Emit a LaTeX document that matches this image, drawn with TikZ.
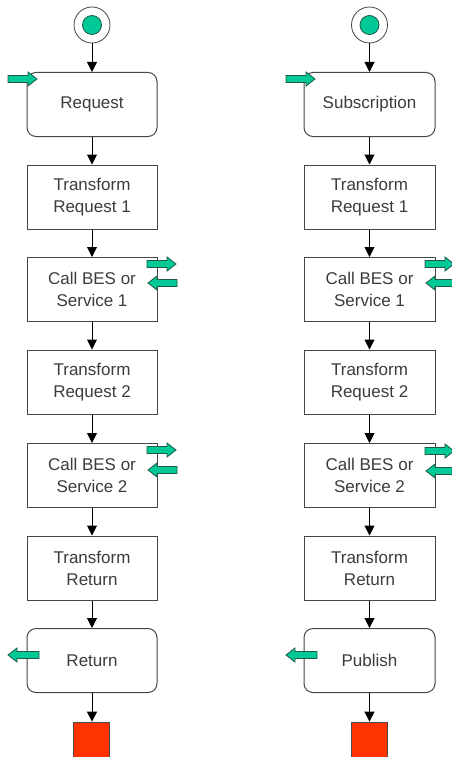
\documentclass[tikz,border=0pt]{standalone}
\usepackage{fontspec}
\setmainfont{Liberation Sans}
\usetikzlibrary{arrows.meta,positioning}
\definecolor{gfill}{RGB}{0,200,150}
\definecolor{gline}{RGB}{30,90,70}
\definecolor{rfill}{RGB}{255,51,0}
\definecolor{boxline}{RGB}{70,70,70}
\definecolor{txt}{RGB}{60,60,60}
\tikzset{
  stepbox/.style={draw=boxline, line width=1pt, fill=white, minimum width=130pt, minimum height=64pt,
    inner sep=0pt, align=center, font=\fontsize{17}{22}\selectfont, text=txt},
  roundbox/.style={stepbox, rounded corners=9pt},
  startouter/.style={circle, draw=boxline, line width=0.8pt, fill=white, minimum size=36pt, inner sep=0pt},
  startinner/.style={circle, draw=gline, line width=0.8pt, fill=gfill, minimum size=19pt, inner sep=0pt},
  endbox/.style={draw=black!70, line width=0.8pt, fill=rfill, minimum width=36pt, minimum height=36pt, inner sep=0pt},
  flow/.style={line width=1pt, -{Triangle[width=10pt,length=10pt]}},
  garrow/.style={fill=gfill, draw=gline, line width=0.8pt, line join=miter},
}
\newcommand{\rarr}[3]{\filldraw[garrow] (#1,#3-3.5) -- (#2-9,#3-3.5) -- (#2-9,#3-7) -- (#2,#3) -- (#2-9,#3+7) -- (#2-9,#3+3.5) -- (#1,#3+3.5) -- cycle;}
\newcommand{\larr}[3]{\filldraw[garrow] (#1,#3-3.5) -- (#2+9,#3-3.5) -- (#2+9,#3-7) -- (#2,#3) -- (#2+9,#3+7) -- (#2+9,#3+3.5) -- (#1,#3+3.5) -- cycle;}
\begin{document}
\begin{tikzpicture}[x=1pt,y=-1pt]
\useasboundingbox (0,0) rectangle (452,757);
\clip (0,0) rectangle (452,757);
% left column
\node[startouter] (ls) at (92,25) {};
\node[startinner] (lsi) at (92,25) {};
\node[roundbox] (lreq) at (92,104.5) {Request};
\node[stepbox] (ltr1) at (92,197) {Transform\\Request 1};
\node[stepbox] (lc1) at (92,289.5) {Call BES or\\Service 1};
\node[stepbox] (ltr2) at (92,382) {Transform\\Request 2};
\node[stepbox] (lc2) at (92,475.5) {Call BES or\\Service 2};
\node[stepbox] (ltrr) at (92,568) {Transform\\Return};
\node[roundbox] (lret) at (92,660.5) {Return};
\node[endbox] (lend) at (91,740) {};
\draw[flow] (ls) -- (lreq);
\draw[flow] (lreq) -- (ltr1);
\draw[flow] (ltr1) -- (lc1);
\draw[flow] (lc1) -- (ltr2);
\draw[flow] (ltr2) -- (lc2);
\draw[flow] (lc2) -- (ltrr);
\draw[flow] (ltrr) -- (lret);
\draw[flow] (lret.south) -- (lret.south |- lend.north);
% right column
\node[startouter] (rs) at (369.5,25) {};
\node[startinner] (rsi) at (369.5,25) {};
\node[roundbox, minimum width=131pt] (rreq) at (369.5,104.5) {Subscription};
\node[stepbox, minimum width=131pt] (rtr1) at (369.5,197) {Transform\\Request 1};
\node[stepbox, minimum width=131pt] (rc1) at (369.5,289.5) {Call BES or\\Service 1};
\node[stepbox, minimum width=131pt] (rtr2) at (369.5,382) {Transform\\Request 2};
\node[stepbox, minimum width=131pt] (rc2) at (369.5,475.5) {Call BES or\\Service 2};
\node[stepbox, minimum width=131pt] (rtrr) at (369.5,568) {Transform\\Return};
\node[roundbox, minimum width=131pt] (rret) at (369.5,660.5) {Publish};
\node[endbox] (rend) at (369,740) {};
\draw[flow] (rs) -- (rreq);
\draw[flow] (rreq) -- (rtr1);
\draw[flow] (rtr1) -- (rc1);
\draw[flow] (rc1) -- (rtr2);
\draw[flow] (rtr2) -- (rc2);
\draw[flow] (rc2) -- (rtrr);
\draw[flow] (rtrr) -- (rret);
\draw[flow] (rret.south) -- (rret.south |- rend.north);
% green arrows
\rarr{8}{37}{79}
\rarr{286}{315}{79}
\rarr{147}{176}{264}
\larr{177}{148}{283}
\rarr{147}{176}{450}
\larr{177}{148}{470}
\rarr{425}{454}{264}
\larr{456}{426}{283}
\rarr{425}{454}{451}
\larr{456}{426}{471}
\larr{39}{8}{655}
\larr{317}{286}{655}
\end{tikzpicture}
\end{document}
